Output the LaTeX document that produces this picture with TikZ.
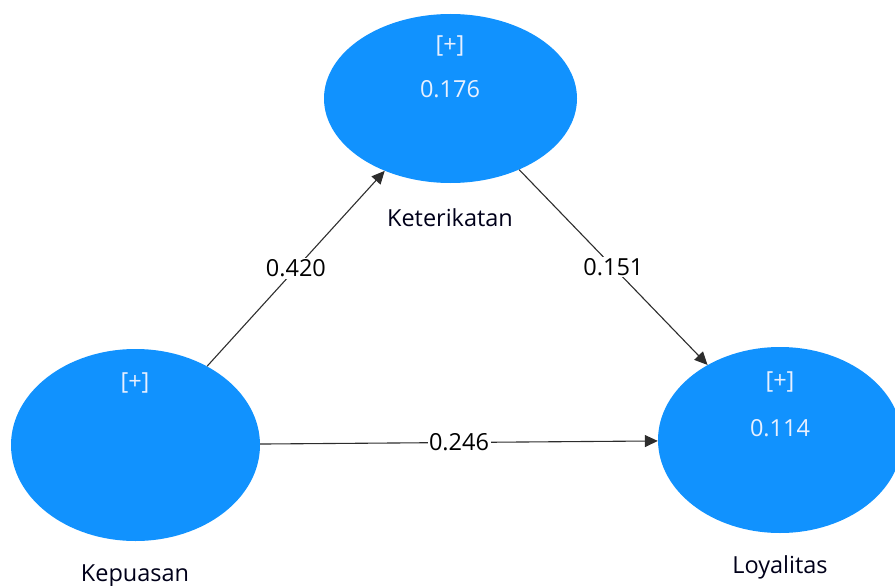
\documentclass[tikz,border=0pt]{standalone}
\usepackage{fontspec}
\setmainfont{Open Sans}
\usetikzlibrary{shapes.geometric,arrows.meta}
\definecolor{lvblue}{RGB}{17,146,254}
\definecolor{lvtext}{RGB}{232,240,255}
\definecolor{edgegray}{RGB}{45,45,45}
\tikzset{
  latent/.style={ellipse, fill=lvblue, draw=none, inner sep=0pt},
  intext/.style={text=lvtext, font=\fontsize{23.5}{27}\selectfont, inner sep=0pt},
  namelabel/.style={text=black!90!blue, font=\fontsize{23.5}{27}\selectfont, inner sep=0pt},
  path/.style={draw=edgegray, line width=1.1pt, -{Triangle[length=13pt,width=12pt]}},
  coef/.style={fill=white, text=black, font=\fontsize{23.5}{27}\selectfont, inner sep=1.5pt, midway}
}
\begin{document}
\begin{tikzpicture}[x=1pt,y=1pt]
\useasboundingbox (0,0) rectangle (895,-586);
\clip (0,0) rectangle (895,-586);
% latent variables
\node[latent, minimum width=249pt, minimum height=192pt] (kep) at (135.5,-445) {};
\node[latent, minimum width=253pt, minimum height=169pt] (ket) at (450.5,-98.5) {};
\node[latent, minimum width=244pt, minimum height=186pt] (loy) at (780,-440) {};
% inner texts
\node[intext] (kepplus) at (135,-383) {[+]};
\node[intext] (ketplus) at (450,-46) {[+]};
\node[intext] (ketval) at (450,-89) {0.176};
\node[intext] (loyplus) at (780,-382) {[+]};
\node[intext] (loyval) at (780,-428) {0.114};
% names
\node[namelabel] (kepname) at (135,-576) {Kepuasan};
\node[namelabel] (ketname) at (450,-218) {Keterikatan};
\node[namelabel] (loyname) at (780,-567) {Loyalitas};
% paths
\draw[path] (kep) -- node[coef] (c1) {0.420} (ket);
\draw[path] (ket) -- node[coef] (c2) {0.151} (loy);
\draw[path] (kep) -- node[coef] (c3) {0.246} (loy);
\end{tikzpicture}
\end{document}
